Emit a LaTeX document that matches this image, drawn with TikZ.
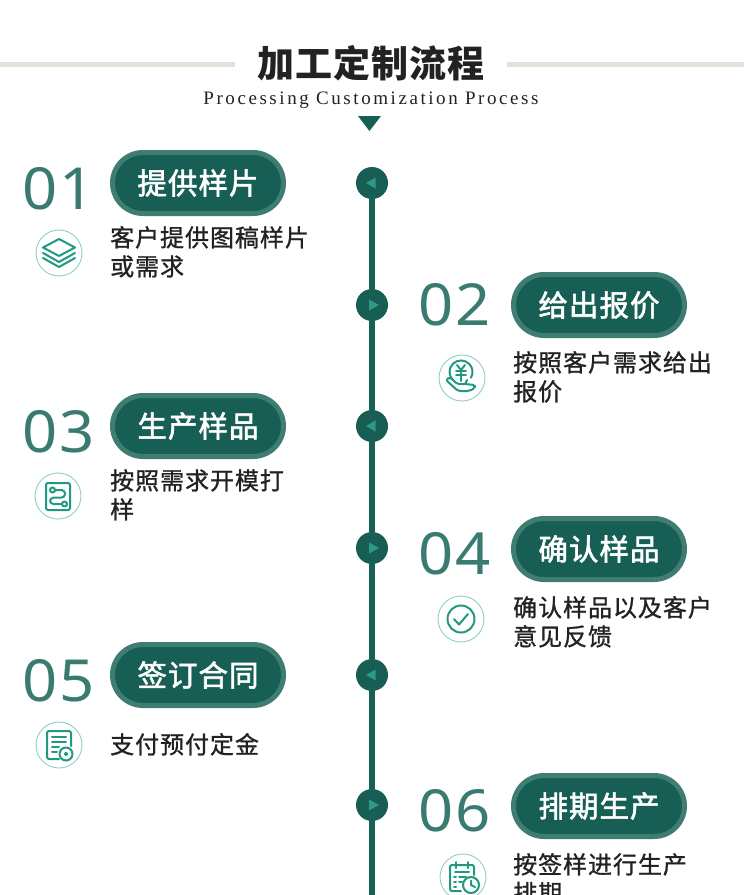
\documentclass[tikz,border=0pt]{standalone}
\usepackage{fontspec}
\usetikzlibrary{shapes.misc}
\setmainfont{Liberation Serif}
\newfontfamily\ttlfont[LetterSpace=2.5]{Noto Sans CJK SC}
\newfontfamily\pillfont[LetterSpace=3.5,FakeBold=2]{Noto Sans CJK SC}
\newfontfamily\bodyfont[LetterSpace=4,FakeBold=1]{Noto Sans CJK SC}
\newfontfamily\numfont[LetterSpace=3,FakeStretch=1.06]{Noto Sans}
\newfontfamily\enfont[LetterSpace=13.5]{Liberation Serif}
\definecolor{deep}{HTML}{175F55}
\definecolor{rimc}{HTML}{3F7D72}
\definecolor{tric}{HTML}{2C9A85}
\definecolor{numc}{HTML}{397B70}
\definecolor{icon}{HTML}{1F9A80}
\definecolor{ring}{HTML}{8FD0BF}
\definecolor{sand}{HTML}{E6E0D8}
\definecolor{ink}{HTML}{222222}
\tikzset{
  x=1pt,y=-1pt,
  pill/.style={rounded rectangle,draw=rimc,fill=deep,line width=5pt,minimum width=171pt,minimum height=61pt,inner sep=0pt,text=white,font=\pillfont\fontsize{29.5}{29.5}\selectfont},
  num/.style={anchor=base west,inner sep=0pt,text=numc,font=\numfont\fontsize{58}{58}\selectfont},
  body/.style={anchor=base west,inner sep=0pt,text=ink,font=\bodyfont\fontsize{24}{24}\selectfont},
  dot/.style={circle,fill=deep,minimum size=32pt,inner sep=0pt},
  tl/.style={deep,line width=5.5pt},
  tri/.style={fill=tric},
  ringc/.style={circle,draw=ring,line width=0.9pt,minimum size=46pt,inner sep=0pt},
  ico/.style={draw=icon,line width=2pt,line join=round,line cap=round},
  ic/.style={shift={(#1)}}
}
\begin{document}
\begin{tikzpicture}
\fill[white] (0,0) rectangle (750,895);
\clip (0,0) rectangle (750,895);
% header
\coordinate (hl1) at (0,64.5); \coordinate (hl2) at (235,64.5);
\coordinate (hr1) at (507,64.5); \coordinate (hr2) at (744,64.5);
\draw[sand,line width=5pt] (hl1) -- (hl2);
\draw[sand,line width=5pt] (hr1) -- (hr2);
\node[inner sep=0pt,text=ink] (title) at (371,63) {\ttlfont\bfseries\fontsize{37}{37}\selectfont 加工定制流程};
\node[inner sep=0pt,text=ink] (sub) at (371,100) {\enfont\fontsize{19}{19}\selectfont Processing Customization Process};
\fill[deep] (358,116) -- (381,116) -- (369.5,131) -- cycle;
% timeline
\node[dot] (c1) at (372,183) {};
\node[dot] (c2) at (372,305) {};
\node[dot] (c3) at (372,426) {};
\node[dot] (c4) at (372,548) {};
\node[dot] (c5) at (372,675) {};
\node[dot] (c6) at (372,805) {};
\coordinate (tlend) at (372,895);
\draw[tl] (c1) -- (c2);
\draw[tl] (c2) -- (c3);
\draw[tl] (c3) -- (c4);
\draw[tl] (c4) -- (c5);
\draw[tl] (c5) -- (c6);
\draw[tl] (c6) -- (tlend);
\foreach \n in {c1,c3,c5}{\fill[tri,shift={(\n)}] (3.5,-5.5) -- (3.5,5.5) -- (-6,0) -- cycle;}
\foreach \n in {c2,c4,c6}{\fill[tri,shift={(\n)}] (-3,-5.5) -- (-3,5.5) -- (7,0) -- cycle;}
% steps
\node[num] (n1) at (22.5,209) {01};
\node[num] (n3) at (22.5,452) {03};
\node[num] (n5) at (22.5,701) {05};
\node[num] (n2) at (418.5,325) {02};
\node[num] (n4) at (418.5,574) {04};
\node[num] (n6) at (418.5,831) {06};
\node[pill] (p1) at (198,183) {提供样片};
\node[pill] (p2) at (599,305) {给出报价};
\node[pill] (p3) at (198,426) {生产样品};
\node[pill] (p4) at (599,549) {确认样品};
\node[pill] (p5) at (198,675) {签订合同};
\node[pill] (p6) at (599,806) {排期生产};
\node[body] (t1a) at (110,246.5) {客户提供图稿样片};
\node[body] (t1b) at (110,275.5) {或需求};
\node[body] (t2a) at (513,371.5) {按照客户需求给出};
\node[body] (t2b) at (513,400.5) {报价};
\node[body] (t3a) at (110,489.5) {按照需求开模打};
\node[body] (t3b) at (110,518.5) {样};
\node[body] (t4a) at (513,616.5) {确认样品以及客户};
\node[body] (t4b) at (513,645.5) {意见反馈};
\node[body] (t5a) at (110,753.5) {支付预付定金};
\node[body] (t6a) at (513,873.5) {按签样进行生产};
\node[body] (t6b) at (513,902) {排期};
% icon rings
\node[ringc] (r1) at (59,253) {};
\node[ringc] (r2) at (462,378) {};
\node[ringc] (r3) at (58,496) {};
\node[ringc] (r4) at (461,619) {};
\node[ringc] (r5) at (59,745) {};
\node[ringc] (r6) at (463,877) {};
% stack icon
\begin{scope}[ic=r1,ico]
\draw (0,-14) -- (16,-5.5) -- (0,3) -- (-16,-5.5) -- cycle;
\draw (-16,0) -- (0,9) -- (16,0);
\draw (-16,5) -- (0,14) -- (16,5);
\end{scope}
% money in hand icon
\begin{scope}[ic=r2,ico]
\draw (-9.1,2.1) arc[start angle=-225,end angle=30,radius=11.5];
\draw (-5,-13) -- (-1,-8) -- (3,-13);
\draw (-6,-7) -- (4,-7);
\draw (-6,-3) -- (4,-3);
\draw (-1,-8) -- (-1,3);
\draw[rounded corners=2pt] (-16,2) -- (-12,-1) -- (-5,6) -- (3,6) -- (13,7) -- (13,10) -- (7,13) -- (-4,13) -- cycle;
\draw (3,6) -- (5,2);
\end{scope}
% route icon
\begin{scope}[ic=r3,ico]
\draw[rounded corners=2pt] (-12,-13) rectangle (12,14);
\draw[rounded corners=3.5pt] (-3,-6) -- (7,-6) -- (7,1.6) -- (-8,1.6) -- (-8,8) -- (4,8);
\draw (-5.5,-6) circle[radius=2.5];
\draw (6.5,8) circle[radius=2.5];
\end{scope}
% check icon
\begin{scope}[ic=r4,ico]
\draw (0,0) circle[radius=13.5];
\draw (-7,0) -- (-2,5.5) -- (7,-5);
\end{scope}
% document icon
\begin{scope}[ic=r5,ico]
\draw[rounded corners=2pt] (0,14) -- (-12,14) -- (-12,-14) -- (12,-14) -- (12,1);
\draw (-7,-8) -- (7,-8);
\draw (-7,-3) -- (7,-3);
\draw (-7,2) -- (0,2);
\draw (-7,7) -- (-2,7);
\draw (7,9) circle[radius=6.5];
\fill[icon] (7,9) circle[radius=2];
\end{scope}
% calendar icon
\begin{scope}[ic=r6,ico]
\draw[rounded corners=2pt] (-2,14) -- (-13,14) -- (-13,-12) -- (11,-12) -- (11,-2);
\draw (-7,-15) -- (-7,-9);
\draw (5,-15) -- (5,-9);
\draw (-8,-5) -- (6,-5);
\draw (-9,0) -- (-7,0); \draw (-4,0) -- (3,0);
\draw (-9,5) -- (-7,5); \draw (-4,5) -- (-1,5);
\draw (-9,10) -- (-7,10);
\draw (8,8) circle[radius=8];
\draw (8,3.5) -- (8,8) -- (12,10);
\end{scope}
\end{tikzpicture}
\end{document}
